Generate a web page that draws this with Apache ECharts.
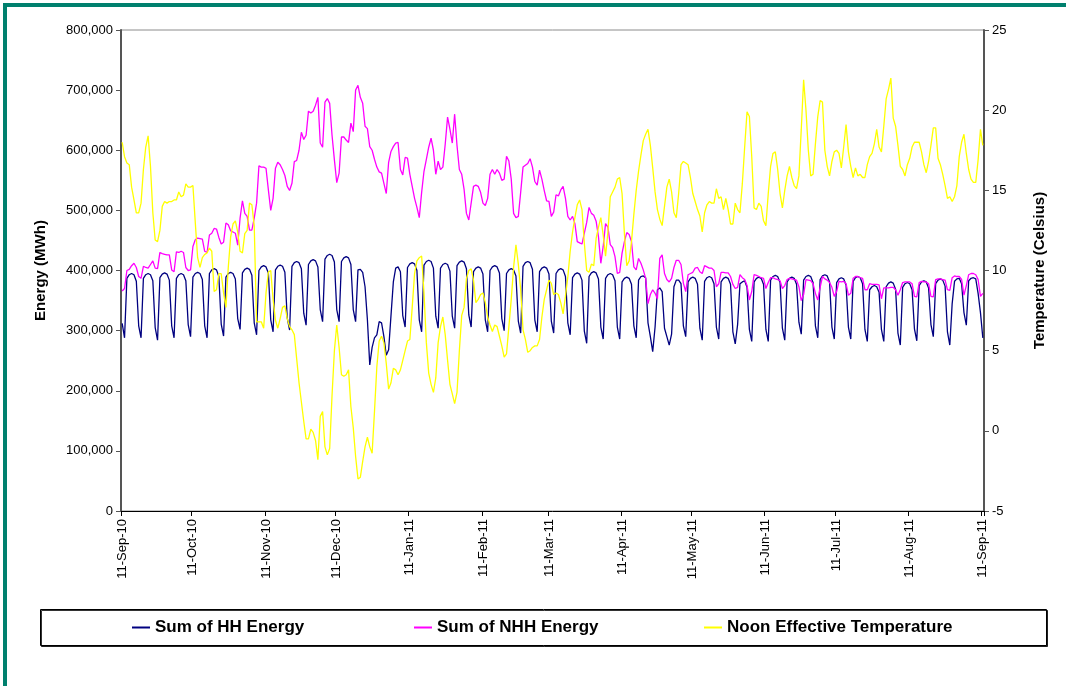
<!DOCTYPE html>
<html>
<head>
<meta charset="utf-8">
<script src="https://cdn.jsdelivr.net/npm/echarts@6/dist/echarts.min.js"></script>
<style>
  html, body { margin: 0; padding: 0; background: #ffffff; }
  #chart { width: 1066px; height: 686px; }
</style>
</head>
<body>
<div id="chart"></div>
<script>
// Daily values, 11-Sep-10 .. 11-Sep-11 (366 days)
const seriesNames = ['Sum of HH Energy', 'Sum of NHH Energy', 'Noon Effective Temperature'];

const monthTicks = ['11-Sep-10', '11-Oct-10', '11-Nov-10', '11-Dec-10', '11-Jan-11', '11-Feb-11',
  '11-Mar-11', '11-Apr-11', '11-May-11', '11-Jun-11', '11-Jul-11', '11-Aug-11', '11-Sep-11'];

// Half-hourly metered energy, MWh per day
const hhEnergy = [
  312000, 288000,
  387000, 393000, 395000, 393000, 382000, 308000, 288000,
  387000, 393000, 395000, 393000, 383000, 305000, 284000,
  388000, 394000, 396000, 394000, 384000, 308000, 288000,
  387000, 393000, 395000, 393000, 383000, 310000, 290000,
  389000, 395000, 397000, 395000, 385000, 308000, 288000,
  395000, 401000, 403000, 401000, 390000, 311000, 291000,
  389000, 395000, 397000, 395000, 386000, 320000, 302000,
  396000, 402000, 404000, 402000, 392000, 313000, 293000,
  400000, 406000, 408000, 406000, 396000, 318000, 298000,
  401000, 407000, 409000, 407000, 397000, 321000, 301000,
  407000, 413000, 415000, 413000, 403000, 329000, 309000,
  410000, 416000, 418000, 416000, 406000, 335000, 315000,
  419000, 425000, 427000, 425000, 414000, 335000, 315000,
  415000, 421000, 423000, 421000, 410000, 335000, 315000,
  401000, 402000, 397000, 373000, 318000, 243000, 272000,
  288000, 293000, 315000, 313000, 290000, 259000, 268000,
  325000, 381000, 404000, 406000, 398000, 325000, 306000,
  405000, 411000, 413000, 411000, 400000, 318000, 298000,
  409000, 415000, 417000, 415000, 404000, 324000, 304000,
  404000, 410000, 412000, 410000, 399000, 324000, 304000,
  408000, 414000, 416000, 414000, 403000, 326000, 306000,
  398000, 404000, 406000, 404000, 394000, 318000, 298000,
  400000, 406000, 408000, 406000, 396000, 320000, 300000,
  395000, 401000, 403000, 401000, 391000, 316000, 296000,
  407000, 413000, 415000, 413000, 402000, 318000, 298000,
  398000, 404000, 406000, 404000, 394000, 316000, 296000,
  395000, 401000, 403000, 401000, 390000, 313000, 293000,
  388000, 394000, 396000, 394000, 384000, 299000, 279000,
  390000, 396000, 398000, 396000, 386000, 306000, 286000,
  387000, 393000, 395000, 393000, 383000, 306000, 286000,
  381000, 387000, 389000, 387000, 377000, 308000, 288000,
  384000, 390000, 391000, 388000, 313000, 290000, 265000,
  306000, 368000, 371000, 365000, 304000, 290000, 276000,
  294000, 373000, 384000, 384000, 378000, 308000, 290000,
  381000, 387000, 389000, 387000, 377000, 304000, 284000,
  382000, 388000, 390000, 388000, 378000, 306000, 286000,
  381000, 387000, 389000, 387000, 377000, 298000, 278000,
  310000, 378000, 381000, 383000, 372000, 302000, 282000,
  381000, 387000, 389000, 387000, 377000, 302000, 282000,
  384000, 390000, 392000, 390000, 380000, 304000, 284000,
  381000, 387000, 389000, 387000, 377000, 314000, 294000,
  384000, 390000, 392000, 390000, 380000, 308000, 288000,
  385000, 391000, 393000, 391000, 381000, 306000, 286000,
  380000, 386000, 388000, 386000, 376000, 306000, 286000,
  382000, 388000, 390000, 388000, 378000, 302000, 282000,
  368000, 373000, 375000, 373000, 364000, 302000, 282000,
  373000, 379000, 381000, 379000, 369000, 296000, 276000,
  372000, 378000, 380000, 378000, 368000, 303000, 283000,
  375000, 381000, 383000, 381000, 371000, 310000, 290000,
  378000, 384000, 386000, 384000, 374000, 298000, 276000,
  345000, 382000, 386000, 387000, 378000, 330000, 309000,
  383000, 387000, 388000, 386000, 362000, 330000, 288000
];

// Non-half-hourly (profiled) energy, MWh per day
const nhhEnergy = [
  366000, 370000, 400000, 402000, 408000, 412000, 405000, 390000, 387000, 407000,
  405000, 404000, 410000, 416000, 404000, 403000, 430000, 428000, 427000, 426000,
  426000, 401000, 398000, 431000, 430000, 432000, 430000, 405000, 400000, 401000,
  440000, 451000, 454000, 453000, 452000, 432000, 430000, 459000, 462000, 470000,
  469000, 455000, 444000, 447000, 479000, 476000, 466000, 464000, 462000, 442000,
  487000, 516000, 495000, 490000, 467000, 467000, 487000, 512000, 574000, 572000,
  572000, 570000, 534000, 500000, 520000, 570000, 580000, 576000, 568000, 558000,
  540000, 533000, 545000, 581000, 583000, 600000, 630000, 618000, 625000, 665000,
  662000, 665000, 675000, 688000, 612000, 605000, 680000, 686000, 678000, 625000,
  584000, 546000, 562000, 622000, 622000, 617000, 613000, 645000, 631000, 700000,
  708000, 688000, 678000, 640000, 636000, 606000, 600000, 585000, 572000, 564000,
  562000, 545000, 528000, 580000, 598000, 606000, 612000, 613000, 568000, 559000,
  588000, 587000, 560000, 540000, 520000, 505000, 488000, 530000, 565000, 585000,
  605000, 620000, 600000, 560000, 582000, 568000, 572000, 610000, 655000, 635000,
  612000, 660000, 608000, 568000, 560000, 535000, 495000, 484000, 512000, 540000,
  542000, 540000, 530000, 512000, 508000, 520000, 560000, 568000, 560000, 568000,
  562000, 550000, 552000, 590000, 582000, 552000, 495000, 488000, 490000, 530000,
  572000, 575000, 578000, 586000, 572000, 548000, 542000, 567000, 552000, 533000,
  516000, 515000, 490000, 497000, 526000, 524000, 534000, 540000, 520000, 490000,
  484000, 490000, 478000, 448000, 446000, 444000, 462000, 480000, 505000, 495000,
  492000, 482000, 456000, 412000, 440000, 478000, 472000, 443000, 438000, 423000,
  395000, 397000, 429000, 448000, 463000, 460000, 448000, 406000, 401000, 420000,
  412000, 401000, 387000, 345000, 360000, 368000, 362000, 353000, 420000, 426000,
  395000, 385000, 381000, 387000, 405000, 417000, 417000, 410000, 379000, 365000,
  393000, 395000, 397000, 404000, 405000, 398000, 395000, 408000, 406000, 404000,
  404000, 400000, 373000, 378000, 397000, 397000, 396000, 396000, 390000, 377000,
  370000, 372000, 393000, 388000, 385000, 375000, 351000, 365000, 393000, 392000,
  390000, 388000, 387000, 370000, 380000, 388000, 388000, 386000, 385000, 383000,
  370000, 375000, 385000, 387000, 386000, 385000, 384000, 373000, 350000, 360000,
  385000, 384000, 383000, 378000, 362000, 351000, 372000, 390000, 386000, 384000,
  380000, 372000, 357000, 365000, 382000, 381000, 382000, 378000, 359000, 362000,
  387000, 390000, 390000, 388000, 387000, 368000, 368000, 378000, 377000, 377000,
  377000, 376000, 353000, 371000, 371000, 371000, 372000, 372000, 368000, 359000,
  368000, 380000, 381000, 381000, 381000, 378000, 357000, 356000, 380000, 382000,
  381000, 381000, 378000, 357000, 356000, 385000, 386000, 386000, 385000, 384000,
  368000, 367000, 388000, 391000, 390000, 390000, 385000, 359000, 375000, 393000,
  395000, 395000, 393000, 385000, 357000, 362000
];

// Noon effective temperature, degrees Celsius
const noonTemp = [
  18.0, 17.1, 16.7, 16.6, 15.2, 14.4, 13.6, 13.6, 14.2, 16.3,
  17.7, 18.4, 16.5, 13.6, 11.9, 11.8, 12.5, 14.0, 14.3, 14.2,
  14.3, 14.3, 14.4, 14.4, 14.9, 14.6, 14.7, 15.4, 15.2, 15.2,
  15.3, 13.0, 10.8, 10.2, 10.8, 11.0, 11.1, 11.4, 11.2, 8.7,
  8.8, 9.8, 9.8, 8.6, 7.7, 10.2, 12.1, 12.9, 13.1, 12.4,
  11.2, 11.1, 12.3, 12.5, 14.2, 14.1, 12.8, 6.8, 6.8, 6.8,
  6.4, 8.6, 9.9, 10.0, 8.2, 6.9, 6.4, 7.0, 7.7, 7.8,
  7.0, 6.5, 6.3, 6.0, 4.5, 3.0, 1.8, 0.6, -0.5, -0.5,
  0.1, -0.1, -0.6, -1.8, 0.9, 1.2, -1.0, -1.5, -1.1, 2.2,
  5.0, 6.6, 5.2, 3.5, 3.4, 3.5, 3.8, 1.5, 0.2, -1.6,
  -3.0, -2.9, -1.9, -1.0, -0.4, -1.0, -1.4, 1.2, 4.0, 5.6,
  5.9, 5.5, 4.2, 2.6, 3.0, 3.9, 3.8, 3.5, 3.8, 4.4,
  5.0, 5.6, 5.7, 7.7, 9.8, 10.6, 10.8, 10.9, 8.6, 5.5,
  3.6, 2.9, 2.4, 3.3, 5.5, 6.5, 7.1, 6.0, 4.4, 2.9,
  2.3, 1.7, 2.4, 5.0, 7.2, 7.7, 9.5, 10.0, 10.1, 9.4,
  8.0, 8.2, 8.5, 8.6, 8.0, 7.1, 6.6, 6.2, 6.6, 6.5,
  5.9, 5.3, 4.6, 4.8, 6.5, 8.2, 10.2, 11.6, 10.4, 8.8,
  6.3, 5.7, 4.9, 5.0, 5.2, 5.3, 5.3, 5.7, 7.1, 8.2,
  8.8, 9.4, 9.2, 8.5, 8.6, 8.5, 8.0, 7.3, 8.4, 9.6,
  11.2, 12.4, 13.3, 14.1, 14.4, 13.8, 11.7, 10.0, 9.9, 10.4,
  10.3, 12.0, 12.7, 13.3, 12.2, 10.9, 12.4, 14.6, 14.9, 15.2,
  15.7, 15.8, 14.8, 12.3, 10.3, 10.6, 11.8, 13.5, 15.0, 16.2,
  17.2, 18.1, 18.5, 18.8, 17.8, 16.4, 14.9, 13.8, 13.2, 12.8,
  14.0, 15.2, 15.7, 14.9, 13.6, 13.3, 14.8, 16.6, 16.8, 16.7,
  16.6, 15.8, 14.8, 14.3, 13.8, 13.4, 12.4, 13.6, 14.1, 14.3,
  14.2, 14.2, 15.1, 14.5, 14.6, 13.8, 14.5, 13.8, 12.9, 12.9,
  14.2, 13.8, 13.6, 15.4, 17.7, 19.9, 19.6, 17.1, 13.9, 13.8,
  14.2, 14.0, 13.1, 12.8, 14.8, 16.5, 17.3, 17.4, 16.3, 14.8,
  13.9, 15.0, 15.9, 16.5, 15.8, 15.3, 15.1, 15.9, 18.8, 21.9,
  20.0, 17.5, 15.9, 16.0, 17.9, 19.6, 20.6, 20.5, 17.5, 16.5,
  15.9, 16.8, 17.4, 17.5, 17.3, 16.4, 17.7, 19.1, 17.4, 16.5,
  15.8, 16.4, 15.9, 16.0, 15.8, 15.8, 16.6, 17.1, 17.3, 17.9,
  18.8, 17.7, 17.4, 19.0, 20.7, 21.3, 22.0, 19.5, 19.0, 17.8,
  16.5, 16.3, 15.9, 16.6, 17.0, 17.7, 18.0, 18.0, 18.0, 17.4,
  16.6, 16.1, 16.8, 17.8, 18.9, 18.9, 17.0, 16.6, 16.0, 15.3,
  14.5, 14.6, 14.3, 14.6, 15.3, 17.1, 18.0, 18.5, 17.3, 16.3,
  15.7, 15.5, 15.5, 16.9, 18.8, 17.8
];

// Day labels in d-MMM-yy form, one per value
const MONTHS = ['Jan', 'Feb', 'Mar', 'Apr', 'May', 'Jun', 'Jul', 'Aug', 'Sep', 'Oct', 'Nov', 'Dec'];
const dayLabels = [];
const start = Date.UTC(2010, 8, 11);
for (let i = 0; i < hhEnergy.length; i++) {
  const dt = new Date(start + i * 86400000);
  dayLabels.push(dt.getUTCDate() + '-' + MONTHS[dt.getUTCMonth()] + '-' + String(dt.getUTCFullYear()).slice(2));
}
const isMonthTick = (idx, val) => monthTicks.indexOf(val) !== -1;

const FONT = "'Liberation Sans', Arial, sans-serif";
const chart = echarts.init(document.getElementById('chart'), null, { renderer: 'canvas' });

// Legend entries: plain short line swatch followed by bold label
const legendBase = {
  top: 619,
  icon: 'rect',
  itemWidth: 18,
  itemHeight: 2,
  padding: 0,
  textStyle: { fontFamily: FONT, fontSize: 17, fontWeight: 'bold', color: '#000000' }
};

chart.setOption({
  animation: false,
  backgroundColor: '#ffffff',
  textStyle: { fontFamily: FONT },
  grid: {
    left: 121, right: 82, top: 30, bottom: 175,
    show: true, borderColor: '#8c8c8c', borderWidth: 1, backgroundColor: '#ffffff',
    outerBoundsMode: 'none'
  },
  graphic: [
    { type: 'rect', z: 1, shape: { x: 3, y: 3, width: 1063, height: 4 }, style: { fill: '#00806e' } },
    { type: 'rect', z: 1, shape: { x: 3, y: 3, width: 4, height: 683 }, style: { fill: '#00806e' } },
    { type: 'rect', z: 1, shape: { x: 40.5, y: 609.5, width: 1006, height: 36 },
      style: { fill: '#ffffff', stroke: '#000000', lineWidth: 1,
               shadowColor: 'rgba(0,0,0,0.8)', shadowBlur: 0, shadowOffsetX: 1, shadowOffsetY: 1 } }
  ],
  legend: [
    Object.assign({ data: [seriesNames[0]], left: 132 }, legendBase),
    Object.assign({ data: [seriesNames[1]], left: 414 }, legendBase),
    Object.assign({ data: [seriesNames[2]], left: 704 }, legendBase)
  ],
  xAxis: {
    type: 'category',
    data: dayLabels,
    boundaryGap: true,
    axisLine: { show: true, lineStyle: { color: '#000000', width: 1 } },
    axisTick: { show: true, interval: isMonthTick, length: 5, lineStyle: { color: '#000000' } },
    axisLabel: { interval: isMonthTick, rotate: 90, fontSize: 13, color: '#000000', margin: 8, fontFamily: FONT },
    splitLine: { show: false }
  },
  yAxis: [
    {
      type: 'value', position: 'left', min: 0, max: 800000, interval: 100000,
      name: 'Energy (MWh)', nameLocation: 'middle', nameRotate: 90, nameGap: 73,
      nameTextStyle: { fontFamily: FONT, fontSize: 15, fontWeight: 'bold', color: '#000000' },
      axisLine: { show: true, lineStyle: { color: '#555555', width: 2 } },
      axisTick: { show: true, length: 5, lineStyle: { color: '#555555' } },
      axisLabel: {
        fontSize: 13, color: '#000000', margin: 8, fontFamily: FONT,
        formatter: v => String(v).replace(/\B(?=(\d{3})+(?!\d))/g, ',')
      },
      splitLine: { show: false }
    },
    {
      type: 'value', position: 'right', min: -5, max: 25, interval: 5,
      name: 'Temperature (Celsius)', nameLocation: 'middle', nameRotate: 90, nameGap: 48,
      nameTextStyle: { fontFamily: FONT, fontSize: 15, fontWeight: 'bold', color: '#000000' },
      axisLine: { show: true, lineStyle: { color: '#555555', width: 2 } },
      axisTick: { show: true, length: 5, lineStyle: { color: '#555555' } },
      axisLabel: { fontSize: 13, color: '#000000', margin: 8, fontFamily: FONT },
      splitLine: { show: false }
    }
  ],
  series: [
    {
      name: seriesNames[0], type: 'line', yAxisIndex: 0, data: hhEnergy,
      symbol: 'none', showSymbol: false,
      lineStyle: { color: '#000080', width: 1.3 }, itemStyle: { color: '#000080' }, z: 3
    },
    {
      name: seriesNames[1], type: 'line', yAxisIndex: 0, data: nhhEnergy,
      symbol: 'none', showSymbol: false,
      lineStyle: { color: '#ff00ff', width: 1.3 }, itemStyle: { color: '#ff00ff' }, z: 4
    },
    {
      name: seriesNames[2], type: 'line', yAxisIndex: 1, data: noonTemp,
      symbol: 'none', showSymbol: false,
      lineStyle: { color: '#ffff00', width: 1.3 }, itemStyle: { color: '#ffff00' }, z: 5
    }
  ]
});
</script>
</body>
</html>
